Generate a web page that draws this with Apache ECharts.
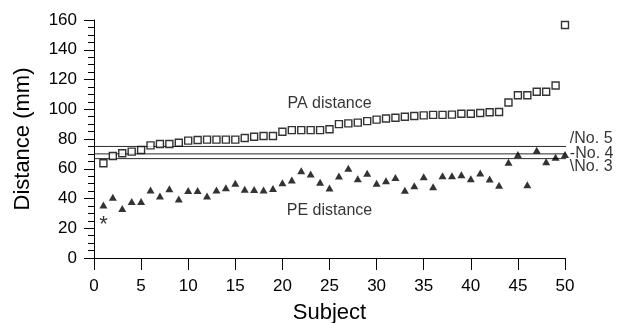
<!DOCTYPE html>
<html>
<head>
<meta charset="utf-8">
<script src="https://cdn.jsdelivr.net/npm/echarts@6/dist/echarts.min.js"></script>
<style>
html,body{margin:0;padding:0;background:#fff;}
#chart{width:628px;height:323px;}
</style>
</head>
<body>
<div id="chart"></div>
<script>
var subjects = [1,2,3,4,5,6,7,8,9,10,11,12,13,14,15,16,17,18,19,20,21,22,23,24,25,26,27,28,29,30,31,32,33,34,35,36,37,38,39,40,41,42,43,44,45,46,47,48,49,50];
var paDistance = [63.7,68.6,70.4,71.5,72.6,75.7,76.6,76.6,77.5,78.9,79.3,79.6,79.6,79.6,79.6,80.7,81.5,82,82,84.9,86,86,86,86,86.6,90,90.5,91,92,93,93.8,94.3,95,95.5,95.9,96.2,96.2,96.4,97,97,97.5,98,98.2,104.5,109.4,109.4,111.8,111.8,116,156.6];
var peDistance = [35.6,40.8,33.2,37.9,37.9,45.7,41.7,46.6,39.7,45.3,45.3,41.7,45.7,47.3,50.2,46.2,46.0,45.7,46.8,50.6,52.4,58.7,56.5,50.9,47.1,55.1,60.3,53.3,56.9,50.2,52,54.2,45.5,48.5,54.7,47.9,55.3,55.3,56,53.3,57.1,53.1,48.9,64.3,69.5,49.3,72.4,64.7,67.7,69.5];
var asteriskPoint = [[1, 26.2]];
var refLevels = [75, 70, 66.8];
var refLabels = ['/No. 5', '-No. 4', '\\No. 3'];
var refLineStart = 0;
var refLineEnd = 50.25;
var seriesLabels = [[25, 103.5, 'PA distance'], [25, 31.6, 'PE distance']];
var yTicks = [0, 20, 40, 60, 80, 100, 120, 140, 160];
var xTicks = [0, 5, 10, 15, 20, 25, 30, 35, 40, 45, 50];

var FONT = 'Liberation Sans, Arial, sans-serif';
var chart = echarts.init(document.getElementById('chart'), null, {renderer: 'canvas'});

var paData = subjects.map(function(s, i){ return [s, paDistance[i]]; });
var peData = subjects.map(function(s, i){ return [s, peDistance[i]]; });
var refLabelOffsets = [[1, -8], [1, 0], [1, 8]];
var refLabelData = refLevels.map(function(v, i){
  return {value: [refLineEnd, v], label: {formatter: refLabels[i], offset: refLabelOffsets[i]}};
});

var series = [];
refLevels.forEach(function(v){
  series.push({
    type: 'line', data: [[refLineStart, v], [refLineEnd, v]],
    symbol: 'none', clip: false, silent: true,
    lineStyle: {color: '#2a2a2a', width: 1}, z: 2
  });
});
series.push(
  {
    type: 'scatter', name: 'PA', data: paData,
    symbol: 'rect', symbolSize: 7,
    itemStyle: {color: '#fff', borderColor: '#000', borderWidth: 1.4},
    z: 5
  },
  {
    type: 'scatter', name: 'PE', data: peData,
    symbol: 'triangle', symbolSize: [8, 7],
    itemStyle: {color: '#000'}, z: 5
  },
  {
    type: 'scatter', name: 'asterisk', data: asteriskPoint,
    symbolSize: 1, itemStyle: {color: 'rgba(0,0,0,0)'},
    label: {show: true, position: 'inside', formatter: '*', fontFamily: FONT, fontSize: 22, color: '#000', offset: [0, 6]}
  },
  {
    type: 'scatter', name: 'refLabels', data: refLabelData, clip: false,
    symbolSize: 1, itemStyle: {color: 'rgba(0,0,0,0)'},
    label: {show: true, position: 'right', distance: 1, fontFamily: FONT, fontSize: 16, color: '#000'}
  },
  {
    type: 'scatter', name: 'seriesLabels', data: seriesLabels,
    symbolSize: 1, itemStyle: {color: 'rgba(0,0,0,0)'},
    label: {show: true, position: 'inside', formatter: function(p){ return p.value[2]; }, fontFamily: FONT, fontSize: 16, color: '#000'}
  }
);

chart.setOption({
  animation: false,
  backgroundColor: '#fff',
  grid: {left: 94, right: 63, top: 20, bottom: 65, containLabel: false, outerBoundsMode: 'none'},
  xAxis: {
    type: 'value', min: xTicks[0], max: xTicks[xTicks.length-1], interval: 5,
    name: 'Subject', nameLocation: 'middle', nameGap: 44,
    nameTextStyle: {fontFamily: FONT, fontSize: 22, color: '#000'},
    axisLine: {show: true, onZero: false, lineStyle: {color: '#000', width: 1}},
    axisTick: {show: true, length: 12, lineStyle: {color: '#000'}},
    axisLabel: {fontFamily: FONT, fontSize: 17, color: '#000', margin: 20},
    splitLine: {show: false}
  },
  yAxis: {
    type: 'value', min: yTicks[0], max: yTicks[yTicks.length-1], interval: 20,
    name: 'Distance (mm)', nameLocation: 'middle', nameGap: 60,
    nameTextStyle: {fontFamily: FONT, fontSize: 22, color: '#000'},
    axisLine: {show: true, lineStyle: {color: '#000', width: 1}},
    axisTick: {show: true, length: 10, lineStyle: {color: '#000'}},
    minorTick: {show: true, splitNumber: 4, length: 6, lineStyle: {color: '#000'}},
    axisLabel: {fontFamily: FONT, fontSize: 17, color: '#000', margin: 17},
    splitLine: {show: false}
  },
  series: series
});
</script>
</body>
</html>
